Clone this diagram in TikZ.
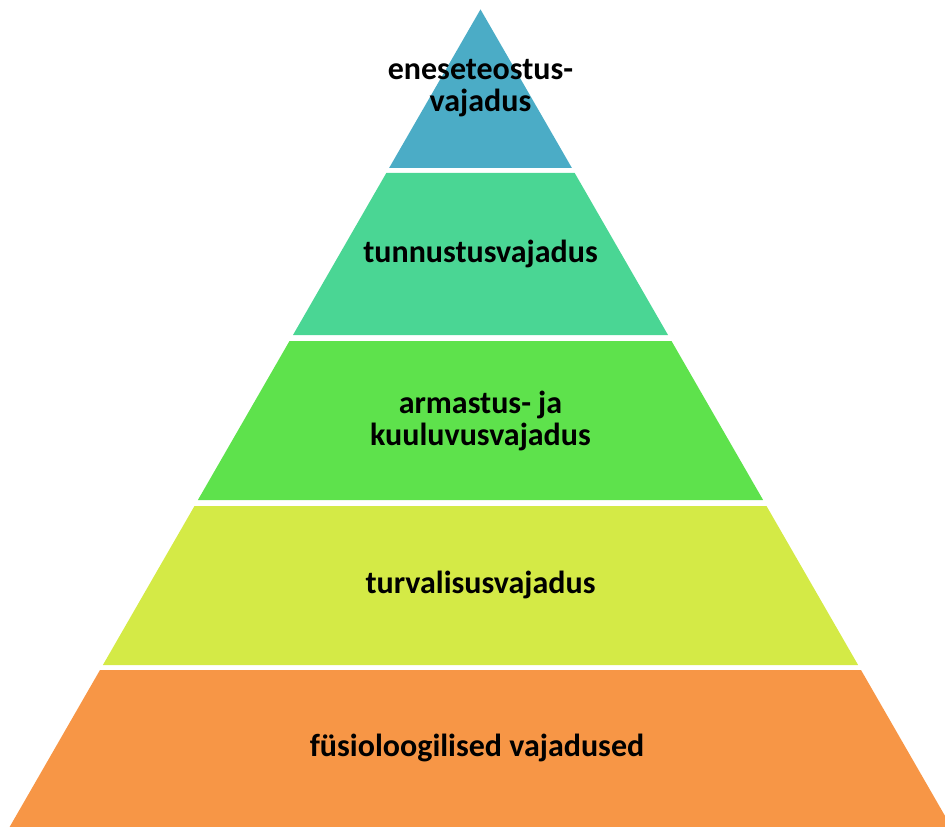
\documentclass[tikz,border=0pt]{standalone}
\usepackage{fontspec}
\setmainfont{Carlito}
\definecolor{tierone}{RGB}{75,172,198}
\definecolor{tiertwo}{RGB}{74,214,148}
\definecolor{tierthree}{RGB}{94,226,76}
\definecolor{tierfour}{RGB}{212,234,70}
\definecolor{tierfive}{RGB}{247,150,70}
\tikzstyle{tier} =
        [
                draw = none
        ]
\tikzstyle{tiertext} =
        [
                text = black,
                align = center,
                font = \bfseries\fontsize{24}{24}\selectfont,
                inner sep = 0pt
        ]

\begin{document}
\begin{tikzpicture}[x = 0.75pt, y = -0.75pt]
        \useasboundingbox (0,0) rectangle (945,827);
        \clip (0,0) rectangle (945,827);

        \fill [tier, tierone] (480.5,9.4) -- (571.9,168) -- (389.1,168) -- cycle;
        \fill [tier, tiertwo] (386.3,173) -- (574.7,173) -- (668,335) -- (293,335) -- cycle;
        \fill [tier, tierthree] (289.5,341) -- (671.5,341) -- (763.1,500) -- (197.9,500) -- cycle;
        \fill [tier, tierfour] (194.5,506) -- (766.5,506) -- (858.1,665) -- (102.9,665) -- cycle;
        \fill [tier, tierfive] (100,670) -- (861,670) -- (951.4,827) -- (9.6,827) -- cycle;

        \node [tiertext] (self) at (480.5,88) {eneseteostus-\\vajadus};
        \node [tiertext] (esteem) at (480.5,254) {tunnustusvajadus};
        \node [tiertext] (love) at (480.5,421) {armastus- ja\\kuuluvusvajadus};
        \node [tiertext] (safety) at (480.5,585) {turvalisusvajadus};
        \node [tiertext] (body) at (477,748) {füsioloogilised vajadused};
\end{tikzpicture}
\end{document}
